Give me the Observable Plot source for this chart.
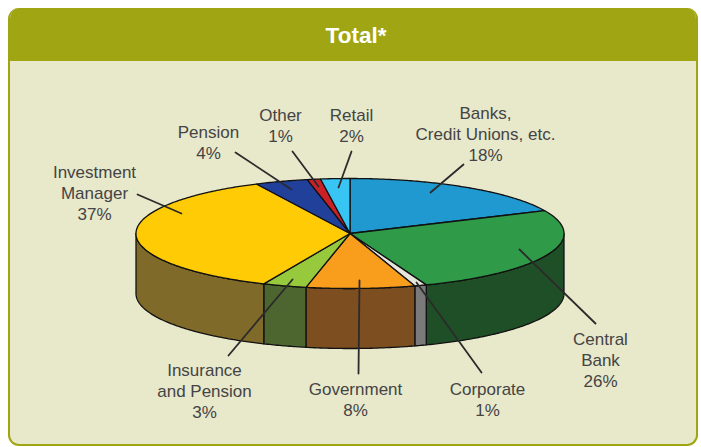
<!DOCTYPE html>
<html>
<head>
<meta charset="utf-8">
<script src="https://cdn.jsdelivr.net/npm/d3@7"></script>
<script src="https://cdn.jsdelivr.net/npm/@observablehq/plot@0.6"></script>
<style>
html,body{margin:0;padding:0;background:#fff;width:701px;height:447px;overflow:hidden;font-family:"Liberation Sans",Arial,sans-serif}
#panel{position:absolute;left:8px;top:8px;width:690px;height:438px;box-sizing:border-box;border:2px solid #a0a613;border-top:0;border-radius:11px;background:#e8e8cb;overflow:hidden}
#title{height:53px;line-height:56px;background:#a0a613;color:#fff;font-weight:700;font-size:22.5px;text-align:center;margin:0 -2px;padding-left:6px}
#chart{position:absolute;left:0;top:61px;width:701px;height:386px}
#chart svg{display:block;background:transparent}
</style>
</head>
<body>
<div id="panel"><div id="title">Total*</div></div>
<div id="chart"></div>
<script>
const sectors = ["Banks, Credit Unions, etc.", "Central Bank", "Corporate", "Government", "Insurance and Pension", "Investment Manager", "Pension", "Other", "Retail"];
const shares = [18.2, 26.0, 0.9, 8.2, 3.3, 36.2, 4.0, 1.0, 2.2];
const topColors = ["#1f99cf", "#2f9b48", "#e6e6dc", "#f99d1c", "#97c93d", "#ffcb05", "#21409a", "#cb2027", "#39c5f3"];
const sideColors = ["#124d67", "#1f4f26", "#7a7a7a", "#7d4e1f", "#4d652e", "#7f6a2a", "#101f4d", "#651013", "#1c6379"];

// Label texts and their layout (page pixels)
const labelTexts = ["Banks,\nCredit Unions, etc.\n18%", "Central\nBank\n26%", "Corporate\n1%", "Government\n8%", "Insurance\nand Pension\n3%", "Investment\nManager\n37%", "Pension\n4%", "Other\n1%", "Retail\n2%"];
const labelX = [485, 600, 487, 355, 204, 94, 208, 280, 351];
const labelY = [133, 359, 398.5, 398.5, 390, 192, 141.5, 124, 124];
const leaderInX = [430, 519, 416, 359, 292, 181, 291, 318, 338];
const leaderInY = [192, 249, 282, 280, 279, 213, 189, 186, 187];
const leaderOutX = [463, 595, 481, 358, 228, 137, 235, 292, 351];
const leaderOutY = [164, 323, 372, 373, 355, 194, 152, 151, 151];

// Pie geometry (page pixels)
const cx = 349.5, cy = 233, rx = 214, ry = 55, depth = 60;
const turn = (pct) => (pct / 100) * 2 * Math.PI;
const rim = (a, drop = 0) => ({x: cx + rx * Math.sin(a), y: cy - ry * Math.cos(a) + drop});
const arc = (a0, a1) => {
  const n = Math.max(1, Math.ceil((a1 - a0) / 0.01));
  return d3.range(n + 1).map((i) => a0 + ((a1 - a0) * i) / n);
};

const tops = [], walls = [];
let acc = 0;
shares.forEach((s, i) => {
  const a0 = turn(acc), a1 = turn(acc + s);
  acc += s;
  const pts = [{x: cx, y: cy}, ...arc(a0, a1).map((a) => rim(a)), {x: cx, y: cy}];
  pts.forEach((p) => tops.push({...p, key: sectors[i], color: topColors[i]}));
  // Only the near half of the rim shows a wall
  const w0 = Math.max(a0, Math.PI / 2), w1 = Math.min(a1, (3 * Math.PI) / 2);
  if (w1 > w0) {
    const as = arc(w0, w1);
    const wp = [...as.map((a) => rim(a)), ...as.slice().reverse().map((a) => rim(a, depth))];
    wp.push(wp[0]);
    wp.forEach((p) => walls.push({...p, key: sectors[i], color: sideColors[i]}));
  }
});

const labels = labelTexts.map((text, i) => ({text, x: labelX[i], y: labelY[i]}));
const leaders = labelTexts.flatMap((text, i) => [
  {key: text, x: leaderInX[i], y: leaderInY[i]},
  {key: text, x: leaderOutX[i], y: leaderOutY[i]}
]);

const chart = Plot.plot({
  width: 701,
  height: 386,
  margin: 0,
  x: {axis: null, domain: [0, 701], range: [0, 701]},
  y: {axis: null, domain: [61, 447], range: [0, 386]},
  style: {background: "transparent", fontFamily: '"Liberation Sans", Arial, sans-serif'},
  marks: [
    Plot.line(walls, {x: "x", y: "y", z: "key", fill: "color", stroke: "#111", strokeWidth: 1.3}),
    Plot.line(tops, {x: "x", y: "y", z: "key", fill: "color", stroke: "#111", strokeWidth: 1.3}),
    Plot.line(leaders, {x: "x", y: "y", z: "key", stroke: "#2b2b2b", strokeWidth: 1.8}),
    Plot.text(labels, {x: "x", y: "y", text: "text", fontSize: 17, lineHeight: 1.24, fill: "#444", textAnchor: "middle"})
  ]
});
document.getElementById("chart").append(chart);
</script>
</body>
</html>
